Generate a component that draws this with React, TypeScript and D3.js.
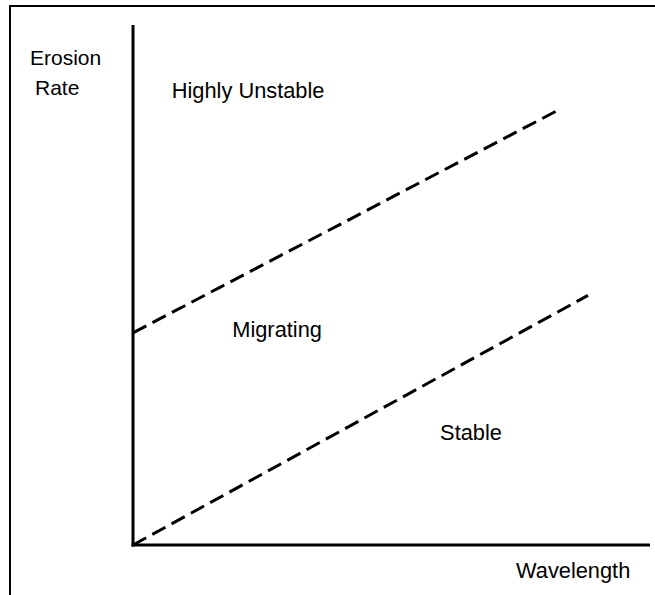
import React from "react";
import * as d3 from "d3";

// boundary lines in data units (wavelength, erosion rate), both axes 0..100
const upperBoundary: [number, number][] = [
  [0, 40.8],
  [82, 83.5],
];
const lowerBoundary: [number, number][] = [
  [0, 0],
  [88, 48],
];

const regionLabels = ["Highly Unstable", "Migrating", "Stable"];
const regionLabelPos: [number, number][] = [
  [7.5, 86],
  [19.2, 40],
  [59.4, 20.2],
];
const yAxisLabel = ["Erosion", "Rate"];
const xAxisLabel = "Wavelength";

const W = 655;
const H = 595;
const FONT = "'Liberation Sans', Arial, sans-serif";
const FS = 21.8;

export default function App() {
  const x = d3.scaleLinear().domain([0, 100]).range([133, 650]);
  const y = d3.scaleLinear().domain([0, 100]).range([545, 25]);

  const line = d3
    .line<[number, number]>()
    .x((d) => x(d[0]))
    .y((d) => y(d[1]));

  return (
    <svg
      width={W}
      height={H}
      style={{ position: "absolute", left: 0, top: 0, background: "#fff" }}
      fontFamily={FONT}
    >
      {/* frame (only top and left edges show) */}
      <line x1={9} x2={W} y1={6} y2={6} stroke="#000" strokeWidth={2} />
      <line x1={10} x2={10} y1={5} y2={H} stroke="#000" strokeWidth={2} />

      {/* axes */}
      <line x1={x(0)} x2={x(0)} y1={y(100)} y2={y(0) + 1.5} stroke="#000" strokeWidth={3} />
      <line x1={x(0) - 1.5} x2={x(100)} y1={y(0)} y2={y(0)} stroke="#000" strokeWidth={3} />

      {/* regime boundaries */}
      {[upperBoundary, lowerBoundary].map((b, i) => (
        <path
          key={i}
          d={line(b) ?? ""}
          fill="none"
          stroke="#000"
          strokeWidth={3}
          strokeDasharray="15,7"
        />
      ))}

      {/* labels */}
      <text x={30} y={65} fontSize={FS - 0.8}>{yAxisLabel[0]}</text>
      <text x={35} y={95} fontSize={FS - 0.8}>{yAxisLabel[1]}</text>
      {regionLabels.map((t, i) => (
        <text key={t} x={x(regionLabelPos[i][0])} y={y(regionLabelPos[i][1])} fontSize={FS}>
          {t}
        </text>
      ))}
      <text x={516} y={578} fontSize={FS}>{xAxisLabel}</text>
    </svg>
  );
}
